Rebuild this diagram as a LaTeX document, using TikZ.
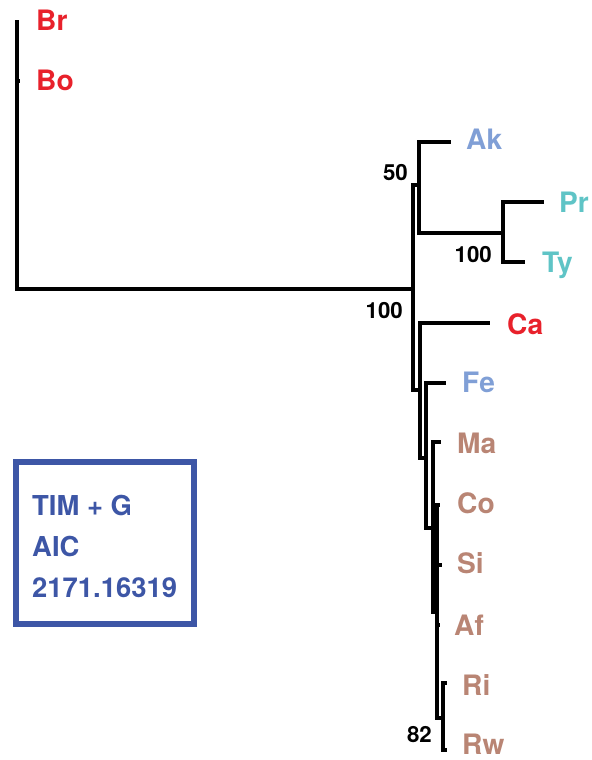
\documentclass[tikz,border=0pt]{standalone}
\usepackage{fontspec}
\setmainfont{TeX Gyre Heros}
\usetikzlibrary{positioning}
\definecolor{outred}{HTML}{E8212B}
\definecolor{akblue}{HTML}{809FD6}
\definecolor{prteal}{HTML}{5FC4C6}
\definecolor{mabrown}{HTML}{B98574}
\definecolor{aicblue}{HTML}{3D56A6}

\begin{document}
\begin{tikzpicture}[x=0.03cm,y=-0.03cm]
  \tikzstyle{branch}=[line width=4.2pt, draw=black, line join=miter]
  \tikzstyle{taxon}=[anchor=base west, inner sep=0pt, font=\fontsize{24}{28}\selectfont\bfseries]
  \tikzstyle{support}=[anchor=base east, inner sep=0pt, font=\fontsize{19}{22}\selectfont\bfseries]
  \tikzstyle{aicbox}=[rectangle, draw=aicblue, line width=4.5pt, minimum width=5.34cm, minimum height=4.86cm]
  \tikzstyle{aictext}=[anchor=base west, inner sep=0pt, text=aicblue, font=\fontsize{23.4}{28}\selectfont\bfseries]

  \useasboundingbox (0,0) rectangle (591,760);

  % internal nodes
  \coordinate (r)  at (17,150);
  \coordinate (n1) at (413,289);
  \coordinate (n2) at (419,185);
  \coordinate (n3) at (503,233);
  \coordinate (n4) at (420,390);
  \coordinate (n5) at (426,458);
  \coordinate (n6) at (433,528);
  \coordinate (n7) at (437,612);
  \coordinate (n8) at (443,718);

  % tips
  \coordinate (br) at (17,20);
  \coordinate (bo) at (20,81);
  \coordinate (ak) at (451,142);
  \coordinate (pr) at (544,202);
  \coordinate (ty) at (525,262);
  \coordinate (ca) at (490,323);
  \coordinate (fe) at (446,383);
  \coordinate (ma) at (441,442);
  \coordinate (co) at (440,505);
  \coordinate (si) at (442,565);
  \coordinate (af) at (440,625);
  \coordinate (ri) at (447,683);
  \coordinate (rw) at (447,750);

  \draw[branch] (r) |- (br) (r) |- (bo) (r) |- (n1);
  \draw[branch] (n1) |- (n2) (n1) |- (n4);
  \draw[branch] (n2) |- (ak) (n2) |- (n3);
  \draw[branch] (n3) |- (pr) (n3) |- (ty);
  \draw[branch] (n4) |- (ca) (n4) |- (n5);
  \draw[branch] (n5) |- (fe) (n5) |- (n6);
  \draw[branch] (n6) |- (ma) (n6) |- (n7);
  \draw[branch] (n7) |- (co) (n7) |- (si) (n7) |- (af) (n7) |- (n8);
  \draw[branch] (n8) |- (ri) (n8) |- (rw);

  % taxon labels
  \node[taxon, text=outred]  (brl) at (36,31)   {Br};
  \node[taxon, text=outred]  (bol) at (36,91)   {Bo};
  \node[taxon, text=akblue]  (akl) at (466,149) {Ak};
  \node[taxon, text=prteal]  (prl) at (559,212) {Pr};
  \node[taxon, text=prteal]  (tyl) at (542,272) {Ty};
  \node[taxon, text=outred]  (cal) at (507,334) {Ca};
  \node[taxon, text=akblue]  (fel) at (462,392) {Fe};
  \node[taxon, text=mabrown] (mal) at (457,453) {Ma};
  \node[taxon, text=mabrown] (col) at (457,513) {Co};
  \node[taxon, text=mabrown] (sil) at (457,573) {Si};
  \node[taxon, text=mabrown] (afl) at (454,635) {Af};
  \node[taxon, text=mabrown] (ril) at (462,695) {Ri};
  \node[taxon, text=mabrown] (rwl) at (462,754) {Rw};

  % bootstrap values
  \node[support] (s50)  at (408,180) {50};
  \node[support] (s100) at (492,262) {100};
  \node[support] (sroot) at (403,318) {100};
  \node[support] (s82)  at (432,742) {82};

  % model box
  \node[aicbox] (aic) at (105,543) {};
  \node[aictext] (tim)  at (32,515) {TIM + G};
  \node[aictext] (aicl) at (32,556) {AIC};
  \node[aictext] (aicv) at (32,597) {2171.16319};
\end{tikzpicture}
\end{document}
